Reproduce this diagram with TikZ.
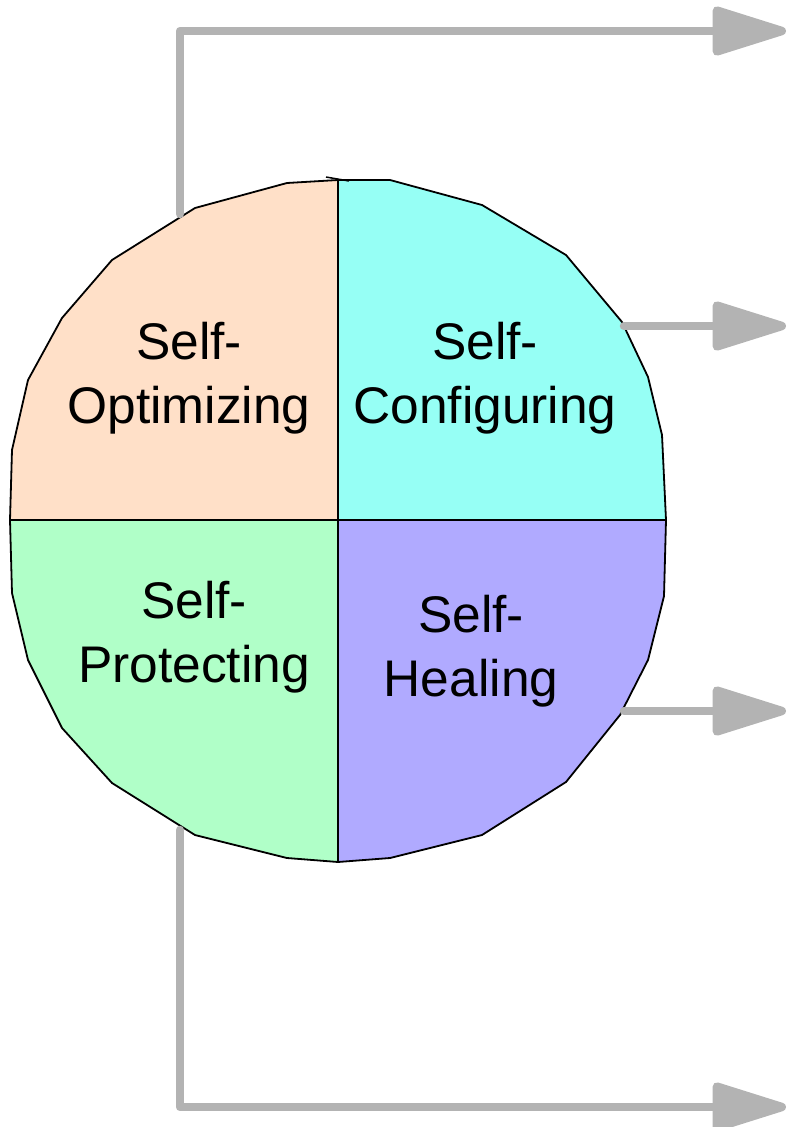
\documentclass[tikz,border=0pt]{standalone}
\usepackage{fontspec}
\setmainfont{Liberation Sans}
\usetikzlibrary{arrows.meta}
\definecolor{optfill}{RGB}{255,224,200}
\definecolor{cfgfill}{RGB}{150,255,245}
\definecolor{protfill}{RGB}{176,255,200}
\definecolor{healfill}{RGB}{176,170,255}
\definecolor{flowgray}{RGB}{179,179,179}
\tikzset{
  quadrant/.style={draw=black, line width=1.8pt, line join=round},
  label/.style={align=center, inner sep=0pt, font=\fontsize{51.5}{64}\selectfont},
  flow/.style={draw=flowgray, line width=8.5pt, line cap=round, line join=round,
    -{Triangle[length=84pt, width=50pt, round]}},
}
\begin{document}
\begin{tikzpicture}[x=1pt, y=-1pt]
\useasboundingbox (0,0) rectangle (789,1127);
% four quadrants of the polygonal disc
\path[quadrant, fill=optfill] (338,520) -- (10,520) -- (12,450) -- (28,380) -- (62,318)
  -- (112,260) -- (195,208) -- (287,183) -- (338,180) -- cycle;
\path[quadrant, fill=cfgfill] (338,520) -- (338,180) -- (390,180) -- (482,205) -- (566,255)
  -- (622,322) -- (648,377) -- (662,435) -- (666,520) -- cycle;
\path[quadrant, fill=healfill] (338,520) -- (666,520) -- (664,596) -- (648,660) -- (620,715)
  -- (566,782) -- (482,835) -- (390,858) -- (338,862) -- cycle;
\path[quadrant, fill=protfill] (338,520) -- (338,862) -- (287,858) -- (195,835) -- (112,783)
  -- (62,728) -- (28,660) -- (12,593) -- (10,520) -- cycle;
\draw[line width=1.5pt] (326,177) -- (349,181);
% labels
\node[label] (opt) at (189,378) {Self-\\Optimizing};
\node[label] (cfg) at (485,378) {Self-\\Configuring};
\node[label] (prot) at (194,637) {Self-\\Protecting};
\node[label] (heal) at (471,651) {Self-\\Healing};
% connector end points
\coordinate (optout) at (180,214);
\coordinate (optbend) at (180,31);
\coordinate (optend) at (786,31);
\coordinate (cfgout) at (624,326);
\coordinate (cfgend) at (786,326);
\coordinate (healout) at (624,711);
\coordinate (healend) at (786,711);
\coordinate (protout) at (180,830);
\coordinate (protbend) at (180,1107);
\coordinate (protend) at (786,1107);
% outgoing flows
\draw[flow] (optout) -- (optbend) -- (optend);
\draw[flow] (cfgout) -- (cfgend);
\draw[flow] (healout) -- (healend);
\draw[flow] (protout) -- (protbend) -- (protend);
\end{tikzpicture}
\end{document}
